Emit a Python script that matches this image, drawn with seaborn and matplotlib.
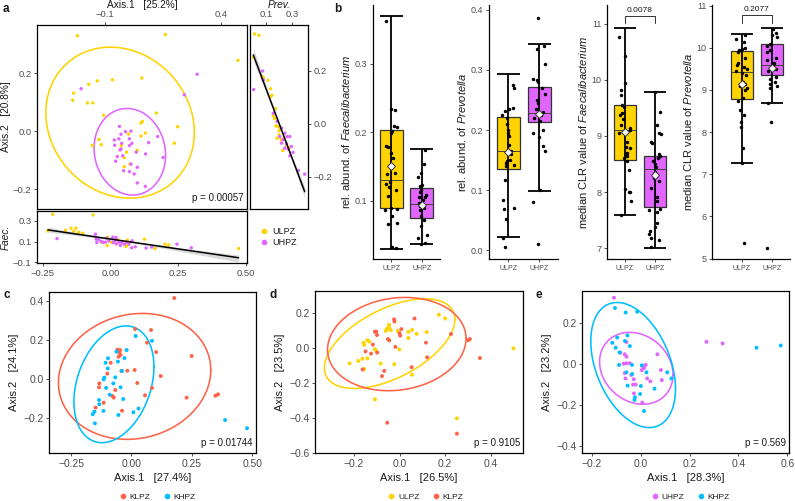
import numpy as np
import pandas as pd
import matplotlib
matplotlib.use("Agg")
import matplotlib.pyplot as plt
import seaborn as sns
from matplotlib.lines import Line2D
from matplotlib.ticker import FuncFormatter

# ------------------------------------------------------------------ colours
COL = {"ULPZ": "#FFD300", "UHPZ": "#E066FF", "KLPZ": "#FF6347", "KHPZ": "#00BFFF"}

# ------------------------------------------------------------------ panel a : PCoA (main)
a_ulpz_ax1 = [-0.219, 0.160, 0.473, 0.059, -0.068, -0.133, -0.170, -0.236, -0.239, -0.176, -0.152,
              -0.106, 0.121, 0.213, 0.061, 0.055, 0.074, 0.055, 0.001, -0.126, -0.116, -0.155,
              0.199, -0.007, 0.039, -0.017, -0.017, 0.008, -0.030]
a_ulpz_ax2 = [0.330, 0.334, 0.245, 0.184, 0.178, 0.174, 0.162, 0.132, 0.107, 0.098, 0.098,
              0.055, 0.063, 0.016, 0.034, 0.029, -0.006, -0.016, -0.009, -0.028, -0.046, -0.049,
              -0.041, -0.072, -0.066, -0.091, -0.122, -0.113, -0.049]
a_uhpz_ax1 = [-0.203, 0.297, 0.242, -0.038, 0.012, -0.012, -0.031, -0.060, -0.040, 0.005, 0.016,
              -0.028, -0.058, -0.031, 0.006, 0.088, 0.127, 0.035, 0.075, -0.047, -0.054, -0.024,
              0.012, 0.039, -0.020, 0.005, 0.026, 0.039, 0.074, 0.150, -0.035]
a_uhpz_ax2 = [0.147, 0.197, 0.126, 0.017, 0.001, -0.001, -0.010, -0.030, -0.026, -0.026, -0.041,
              -0.041, -0.048, -0.061, -0.049, -0.039, -0.018, -0.072, -0.078, -0.087, -0.103, -0.084,
              -0.113, -0.124, -0.136, -0.139, -0.147, -0.178, -0.190, -0.090, -0.064]
# ellipse: centre x, centre y, half width x, half width y, correlation
a_ell = {"ULPZ": [-0.035, 0.030, 0.320, 0.2605, -0.13], "UHPZ": [0.007, -0.0705, 0.154, 0.1495, -0.08]}

# panel a : Faecalibacterium vs Axis.1
faec_ulpz_x = [-0.213, -0.064, -0.231, -0.166, -0.145, -0.127, -0.135, -0.117, -0.102, -0.010, -0.012,
               0.027, 0.063, 0.064, 0.126, 0.165, 0.202, 0.216, 0.474, -0.030, 0.002, 0.058]
faec_ulpz_y = [0.364, 0.358, 0.204, 0.210, 0.230, 0.230, 0.201, 0.191, 0.182, 0.143, 0.063,
               0.118, 0.114, 0.070, 0.124, 0.034, 0.076, 0.067, 0.034, 0.092, 0.095, 0.054]
faec_uhpz_x = [-0.197, -0.055, -0.052, -0.043, -0.034, -0.050, -0.027, -0.018, 0.009, 0.021, 0.011,
               0.022, 0.031, 0.042, 0.037, 0.052, 0.059, 0.069, 0.080, 0.079, 0.092, 0.132, 0.153,
               0.246, 0.299, -0.014, -0.006, 0.018]
faec_uhpz_y = [0.130, 0.172, 0.124, 0.121, 0.102, 0.092, 0.095, 0.095, 0.143, 0.140, 0.092,
               0.079, 0.095, 0.092, 0.063, 0.076, 0.095, 0.076, 0.108, 0.041, 0.050, 0.038, 0.047,
               0.076, 0.041, 0.134, 0.108, 0.114]

# panel a : Prevotella vs Axis.2
prev_ulpz_x = [0.015, 0.0475, 0.005, 0.0675, 0.080, 0.115, 0.135, 0.145, 0.135, 0.1725, 0.155, 0.165,
               0.195, 0.205, 0.175, 0.200, 0.215, 0.235, 0.255, 0.280, 0.200, 0.185, 0.2275]
prev_ulpz_y = [0.340, 0.335, 0.252, 0.181, 0.176, 0.165, 0.133, 0.108, 0.103, 0.057, 0.031, 0.020,
               -0.010, -0.013, -0.008, -0.026, -0.060, -0.055, -0.082, -0.088, -0.042, -0.054, -0.101]
prev_uhpz_x = [0.0075, 0.075, 0.080, 0.155, 0.185, 0.2175, 0.2425, 0.260, 0.280, 0.230, 0.255,
               0.2925, 0.305, 0.280, 0.345, 0.3925, 0.205, 0.2175, 0.2675, 0.2425]
prev_uhpz_y = [0.130, 0.200, 0.166, 0.040, 0.009, -0.016, -0.035, -0.048, -0.048, -0.060, -0.075,
               -0.086, -0.108, -0.121, -0.176, -0.190, -0.048, -0.073, -0.095, -0.092]

# ------------------------------------------------------------------ panel b : boxplots
box_groups = ["ULPZ", "UHPZ"]
b_ylabels = ["rel. abund. of $\\mathit{Faecalibacterium}$", "rel. abund. of $\\mathit{Prevotella}$",
             "median CLR value of $\\mathit{Faecalibacterium}$", "median CLR value of $\\mathit{Prevotella}$"]
b_lo = [[0.030, 0.036], [0.022, 0.099], [7.60, 7.01], [7.27, 8.69]]
b_q1 = [[0.089, 0.074], [0.136, 0.213], [8.58, 7.73], [8.79, 9.35]]
b_med = [[0.130, 0.095], [0.165, 0.228], [9.10, 8.41], [9.42, 9.59]]
b_q3 = [[0.203, 0.118], [0.222, 0.271], [9.55, 8.65], [9.93, 10.08]]
b_hi = [[0.370, 0.175], [0.293, 0.343], [10.92, 9.78], [10.33, 10.48]]
b_mean = [[0.150, 0.093], [0.163, 0.227], [9.07, 8.30], [9.14, 9.53]]
b_pts_ulpz = [
    [0.363, 0.232, 0.234, 0.209, 0.207, 0.202, 0.199, 0.180, 0.178, 0.170, 0.162, 0.140, 0.128, 0.125,
     0.120, 0.115, 0.107, 0.090, 0.088, 0.087, 0.077, 0.067, 0.066, 0.032, 0.031, 0.139, 0.150],
    [0.275, 0.270, 0.236, 0.235, 0.232, 0.225, 0.220, 0.210, 0.200, 0.195, 0.190, 0.175, 0.165, 0.160,
     0.150, 0.148, 0.145, 0.142, 0.140, 0.117, 0.084, 0.070, 0.068, 0.052, 0.021, 0.005],
    [10.76, 10.42, 9.95, 9.82, 9.72, 9.55, 9.52, 9.40, 9.38, 9.30, 9.20, 9.15, 9.10, 9.05, 8.90, 8.80,
     8.78, 8.70, 8.68, 8.65, 8.60, 8.55, 8.40, 8.05, 8.00, 8.00, 7.85, 7.60],
    [10.30, 10.20, 10.15, 10.00, 9.98, 9.95, 9.90, 9.75, 9.65, 9.60, 9.55, 9.50, 9.45, 9.40, 9.35,
     9.20, 9.15, 9.10, 9.05, 9.00, 8.80, 8.75, 8.52, 8.40, 8.25, 8.12, 7.62, 7.27, 5.36]]
b_pts_uhpz = [
    [0.174, 0.153, 0.140, 0.135, 0.123, 0.122, 0.115, 0.113, 0.109, 0.106, 0.106, 0.101, 0.097, 0.096,
     0.092, 0.090, 0.087, 0.077, 0.072, 0.063, 0.050, 0.046, 0.038, 0.037],
    [0.387, 0.340, 0.335, 0.310, 0.285, 0.283, 0.280, 0.270, 0.260, 0.250, 0.245, 0.235, 0.230, 0.225,
     0.220, 0.215, 0.200, 0.195, 0.188, 0.174, 0.165, 0.100, 0.080, 0.010],
    [9.78, 9.42, 9.20, 9.05, 9.03, 8.90, 8.88, 8.68, 8.65, 8.60, 8.55, 8.50, 8.45, 8.35, 8.30, 8.25,
     8.20, 8.08, 7.92, 7.85, 7.70, 7.68, 7.65, 7.45, 7.38, 7.30, 7.25, 7.18, 7.15, 7.02],
    [10.45, 10.35, 10.30, 10.25, 10.10, 10.05, 9.95, 9.90, 9.75, 9.70, 9.65, 9.60, 9.50, 9.45, 9.30,
     9.25, 9.20, 9.15, 9.10, 9.05, 8.70, 8.23, 5.26]]
b_yticks = [[0.1, 0.2, 0.3], [0.0, 0.1, 0.2, 0.3, 0.4], [7, 8, 9, 10, 11], [5, 6, 7, 8, 9, 10, 11]]
b_ylims = [(0.0148, 0.386), (-0.0144, 0.408), (6.81, 11.33), (4.99, 11.016)]
b_xlims = [(-0.6, 1.6), (-0.62, 1.61), (-0.6, 1.5), (-1.0, 1.6)]
b_pval = [None, None, "0.0078", "0.2077"]
b_bracket = [None, None, (11.136, 11.01), (10.77, 10.58)]

# ------------------------------------------------------------------ panels c, d, e
c_klpz_x = [0.177, 0.015, 0.081, 0.064, 0.102, 0.249, 0.121, 0.013, -0.017, -0.042, -0.086, -0.058,
            -0.047, -0.050, -0.045, -0.053, -0.100, -0.133, -0.134, -0.067, -0.079, -0.073, -0.115,
            -0.148, -0.039, 0.024, 0.085, 0.056, 0.228, 0.347, 0.358]
c_klpz_y = [0.417, 0.258, 0.253, 0.188, 0.140, 0.120, 0.017, 0.048, 0.044, 0.043, 0.085, 0.152,
            0.150, 0.138, 0.125, 0.116, 0.029, -0.021, -0.041, -0.055, -0.085, -0.094, -0.120,
            -0.145, -0.161, -0.019, -0.044, -0.082, -0.094, -0.084, -0.077]
c_khpz_x = [0.017, 0.085, -0.020, -0.029, -0.056, -0.097, -0.107, -0.098, -0.062, -0.039, -0.112,
            -0.115, -0.067, -0.075, -0.105, -0.045, -0.090, -0.034, -0.134, -0.133, -0.116, -0.054,
            -0.153, -0.160, -0.151, 0.008, 0.029, 0.387, 0.478]
c_khpz_y = [0.222, 0.198, 0.150, 0.109, 0.091, 0.108, 0.085, 0.056, 0.142, 0.043, 0.009,
            0.000, 0.010, -0.021, -0.044, -0.041, -0.079, -0.101, -0.106, -0.128, -0.162, -0.183,
            -0.166, -0.179, -0.226, -0.169, -0.150, -0.209, -0.251]
c_ell = {"KLPZ": [0.013, 0.015, 0.315, 0.323, 0.10], "KHPZ": [-0.0725, -0.0255, 0.1655, 0.2995, 0.30]}

d_ulpz_x = [0.173, 0.200, -0.046, -0.055, -0.038, -0.060, -0.008, 0.039, 0.055, 0.075, 0.119, 0.039,
            -0.001, -0.158, -0.155, -0.141, -0.133, -0.108, -0.102, -0.141, -0.163, -0.181, -0.219,
            -0.155, -0.083, -0.023, 0.055, 0.500, -0.108, 0.252, -0.046]
d_ulpz_y = [0.192, 0.171, 0.134, 0.112, 0.104, 0.100, 0.100, 0.094, 0.105, 0.083, 0.093, 0.059,
            -0.007, 0.032, 0.019, 0.046, 0.038, -0.005, -0.016, -0.058, -0.060, -0.073, -0.087,
            -0.119, -0.088, -0.092, -0.152, -0.001, -0.294, -0.403, 0.120]
d_klpz_x = [0.066, -0.024, -0.022, 0.008, 0.000, 0.003, -0.018, -0.045, -0.051, -0.102, -0.108,
            -0.099, -0.117, -0.125, -0.149, -0.162, -0.098, -0.077, -0.067, 0.053, 0.121, 0.116,
            0.226, 0.301, 0.309, 0.353, -0.054, 0.252]
d_klpz_y = [0.171, 0.166, 0.154, 0.110, 0.086, 0.073, 0.008, 0.045, 0.053, 0.095, 0.095,
            0.076, 0.021, -0.031, -0.018, -0.122, -0.025, -0.160, -0.130, -0.109, -0.052, 0.032,
            0.082, 0.046, 0.053, -0.056, -0.428, -0.491]
d_ell = {"ULPZ": [-0.0435, 0.0265, 0.2865, 0.2575, 0.54], "KLPZ": [-0.012, 0.024, 0.304, 0.268, 0.12]}

e_uhpz_x = [-0.110, 0.269, 0.335, -0.059, -0.084, -0.066, -0.059, -0.070, -0.059, -0.066, -0.063,
            -0.039, -0.029, -0.032, -0.021, -0.028, 0.004, 0.013, 0.020, 0.005, 0.026, 0.039, 0.068,
            0.082, 0.086, 0.006, -0.045]
e_uhpz_y = [0.322, 0.107, 0.099, 0.106, 0.054, 0.046, 0.034, 0.000, 0.002, -0.046, -0.072,
            -0.055, -0.076, -0.102, -0.102, -0.145, -0.031, -0.021, -0.006, -0.010, -0.072, -0.086,
            0.046, -0.031, -0.080, -0.190, 0.002]
e_khpz_x = [-0.106, -0.062, -0.015, 0.474, 0.573, -0.097, -0.117, -0.103, -0.087, -0.055, -0.065,
            -0.045, -0.089, -0.059, -0.036, -0.035, -0.054, -0.026, -0.024, 0.004, 0.023, 0.000,
            -0.003, 0.013, 0.056, 0.108, 0.125]
e_khpz_y = [0.272, 0.250, 0.254, 0.078, 0.089, 0.128, 0.102, 0.078, 0.055, 0.138, 0.111,
            0.086, -0.006, -0.042, -0.006, -0.050, -0.107, -0.177, -0.164, -0.008, -0.042, -0.109,
            -0.148, -0.231, -0.122, -0.042, -0.072]
e_ell = {"UHPZ": [-0.0185, -0.0225, 0.1505, 0.1755, -0.18], "KHPZ": [-0.0315, -0.0065, 0.1735, 0.3055, -0.38]}

# ------------------------------------------------------------------ style
sns.set_theme(style="ticks")
plt.rcParams.update({
    "font.family": ["Liberation Sans", "DejaVu Sans"],
    "mathtext.fontset": "custom",
    "mathtext.it": "Liberation Sans:italic",
    "mathtext.rm": "Liberation Sans",
    "axes.linewidth": 0.9,
    "axes.edgecolor": "black",
    "text.color": "#1A1A1A",
    "axes.labelcolor": "#1A1A1A",
})
TICKC = "#4D4D4D"

fig = plt.figure(figsize=(7.95, 5.01), dpi=100)


def fa(x0, y0, x1, y1):
    return fig.add_axes([x0 / 795, 1 - y1 / 501, (x1 - x0) / 795, (y1 - y0) / 501])


def fmt(nd):
    return FuncFormatter(lambda v, p: ("{:.%df}" % nd).format(v + 0.0).replace("-", "\u2212")
                         if abs(v) > 1e-9 else ("{:.%df}" % nd).format(0.0))


def style(ax, size):
    for s in ax.spines.values():
        s.set_visible(True)
        s.set_color("black")
        s.set_linewidth(0.9)
    ax.tick_params(direction="out", length=2.5, width=0.6, color="#333333",
                   labelsize=size, labelcolor=TICKC, pad=1.5)
    ax.grid(False)


def scatter(ax, xs, ys, order, s=7):
    df = pd.DataFrame({"x": np.concatenate(xs), "y": np.concatenate(ys),
                       "g": np.repeat(order, [len(v) for v in xs])})
    sns.scatterplot(data=df, x="x", y="y", hue="g", hue_order=order, palette=COL, s=s,
                    linewidth=0, legend=False, ax=ax, zorder=3)
    return df


def ellipse(ax, par, color):
    cx, cy, sx, sy, r = par
    t = np.linspace(0, 2 * np.pi, 400)
    ax.plot(cx + sx * np.cos(t), cy + sy * (r * np.cos(t) + np.sqrt(1 - r * r) * np.sin(t)),
            color=color, lw=1.15, zorder=2)


# ------------------------------------------------------------------ panel a
axm = fa(37, 25, 247, 209)
scatter(axm, [a_ulpz_ax1, a_uhpz_ax1], [a_ulpz_ax2, a_uhpz_ax2], ["ULPZ", "UHPZ"], s=6)
for g in ["ULPZ", "UHPZ"]:
    ellipse(axm, a_ell[g], COL[g])
style(axm, 6.8)
axm.set_xlim(-0.393, 0.512)
axm.set_ylim(-0.268, 0.367)
axm.set_xticks([-0.1, 0.4])
axm.set_yticks([-0.2, 0.0, 0.2])
axm.xaxis.set_major_formatter(fmt(1))
axm.yaxis.set_major_formatter(fmt(1))
axm.tick_params(top=True, bottom=False, labeltop=True, labelbottom=False, left=True)
axm.xaxis.set_label_position("top")
axm.set_xlabel("Axis.1   [25.2%]", fontsize=7.3, labelpad=1.5)
axm.set_ylabel("Axis.2   [20.8%]", fontsize=7.3, labelpad=1.5)
axm.text(0.985, 0.03, "p = 0.00057", transform=axm.transAxes, ha="right", va="bottom", fontsize=7)

axf = fa(37, 211, 247, 263)
dff = scatter(axf, [faec_ulpz_x, faec_uhpz_x], [faec_ulpz_y, faec_uhpz_y], ["ULPZ", "UHPZ"], s=6)
sns.regplot(data=dff, x="x", y="y", scatter=False, color="black", ax=axf, seed=3, ci=68,
            line_kws={"lw": 1.1, "zorder": 4})
style(axf, 6.8)
axf.set_xlim(-0.271, 0.505)
axf.set_ylim(-0.106, 0.396)
axf.set_xticks([-0.25, 0.0, 0.25, 0.5])
axf.set_yticks([-0.1, 0.1, 0.3])
axf.xaxis.set_major_formatter(fmt(2))
axf.yaxis.set_major_formatter(fmt(1))
axf.tick_params(bottom=True, left=True)
axf.set_xlabel("")
axf.set_ylabel("Faec.", fontsize=7.3, fontstyle="italic", labelpad=1.5)

axp = fa(250, 25, 308, 209)
dfp = scatter(axp, [prev_ulpz_x, prev_uhpz_x], [prev_ulpz_y, prev_uhpz_y], ["ULPZ", "UHPZ"], s=6)
sns.regplot(data=dfp, x="x", y="y", scatter=False, color="black", ax=axp, seed=3, ci=68,
            line_kws={"lw": 1.1, "zorder": 4})
style(axp, 6.8)
axp.set_xlim(-0.02, 0.4175)
axp.set_ylim(-0.322, 0.374)
axp.set_xticks([0.1, 0.3])
axp.set_yticks([-0.2, 0.0, 0.2])
axp.xaxis.set_major_formatter(fmt(1))
axp.yaxis.set_major_formatter(fmt(1))
axp.tick_params(top=True, bottom=False, labeltop=True, labelbottom=False,
                right=True, left=False, labelright=True, labelleft=False)
axp.xaxis.set_label_position("top")
axp.set_xlabel("Prev.", fontsize=7.3, fontstyle="italic", labelpad=1.5)
axp.set_ylabel("")

hand_a = [Line2D([], [], marker="o", ls="", color=COL[g], markersize=3) for g in ["ULPZ", "UHPZ"]]
fig.legend(hand_a, ["ULPZ", "UHPZ"], loc="upper left", bbox_to_anchor=(259 / 795, 1 - 227 / 501),
           frameon=False, fontsize=6.5, handletextpad=0.3, labelspacing=0.25, handlelength=1.2,
           borderpad=0, borderaxespad=0)

# ------------------------------------------------------------------ panel b
b_boxes = [(373, 5, 440, 259), (489, 5, 558, 259), (607, 5, 670, 259), (712, 5, 790, 259)]
for i, (x0, y0, x1, y1) in enumerate(b_boxes):
    ax = fa(x0, y0, x1, y1)
    df = pd.DataFrame({"g": ["ULPZ"] * len(b_pts_ulpz[i]) + ["UHPZ"] * len(b_pts_uhpz[i]),
                       "v": b_pts_ulpz[i] + b_pts_uhpz[i]})
    stats = []
    for j, g in enumerate(box_groups):
        stats.append({"whislo": b_lo[i][j], "q1": b_q1[i][j], "med": b_med[i][j],
                      "q3": b_q3[i][j], "whishi": b_hi[i][j], "fliers": [], "label": g})
    bp = ax.bxp(stats, positions=[0, 1], widths=0.75, patch_artist=True, showcaps=False,
                showfliers=False, boxprops={"linewidth": 0.9, "edgecolor": "#333333"},
                medianprops={"color": "#444444", "linewidth": 0.7},
                whiskerprops={"linewidth": 0}, zorder=1)
    for patch, g in zip(bp["boxes"], box_groups):
        patch.set_facecolor(COL[g])
    pos = np.arange(len(box_groups))
    ax.vlines(pos, b_lo[i], b_hi[i], color="black", lw=1.3, zorder=2)
    ax.hlines(b_lo[i], pos - 0.375, pos + 0.375, color="black", lw=1.3, zorder=2)
    ax.hlines(b_hi[i], pos - 0.375, pos + 0.375, color="black", lw=1.3, zorder=2)
    np.random.seed(7 + i)
    sns.stripplot(data=df, x="g", y="v", order=box_groups, color="black", size=2.5,
                  jitter=0.2, ax=ax, zorder=3, linewidth=0)
    ax.plot(pos, b_mean[i], ls="", marker="D", markersize=3.6, mfc="white", mec="#333333",
            mew=0.7, zorder=5)
    if b_pval[i] is not None:
        top, tip = b_bracket[i]
        ax.plot([0, 0, 1, 1], [tip, top, top, tip], color="#333333", lw=0.7, zorder=2)
        ax.text(0.5, top + (b_ylims[i][1] - b_ylims[i][0]) * 0.008, b_pval[i], ha="center",
                va="bottom", fontsize=6)
    sns.despine(ax=ax)
    ax.spines["left"].set_linewidth(0.9)
    ax.spines["bottom"].set_linewidth(0.9)
    ax.spines["left"].set_color("black")
    ax.spines["bottom"].set_color("black")
    ax.tick_params(direction="out", length=2.5, width=0.6, color="#333333", pad=1.5,
                   labelcolor=TICKC)
    ax.tick_params(axis="y", labelsize=6.5)
    ax.tick_params(axis="x", labelsize=5)
    ax.set_ylim(*b_ylims[i])
    ax.set_xlim(*b_xlims[i])
    ax.set_yticks(b_yticks[i])
    ax.yaxis.set_major_formatter(fmt(1 if i < 2 else 0))
    ax.set_xticks(pos)
    ax.set_xticklabels(box_groups)
    ax.set_xlabel("")
    ax.set_ylabel(b_ylabels[i], fontsize=8, labelpad=2)

# ------------------------------------------------------------------ panels c, d, e
def pcoa(box, xs, ys, order, ells, xlim, ylim, xt, yt, xd, xlab, ylab, ptxt, legx):
    ax = fa(*box)
    scatter(ax, xs, ys, order, s=8)
    for g in order:
        ellipse(ax, ells[g], COL[g])
    style(ax, 7.4)
    ax.tick_params(bottom=True, left=True)
    ax.set_xlim(*xlim)
    ax.set_ylim(*ylim)
    ax.set_xticks(xt)
    ax.set_yticks(yt)
    ax.xaxis.set_major_formatter(fmt(xd))
    ax.yaxis.set_major_formatter(fmt(1))
    ax.set_xlabel(xlab, fontsize=8, labelpad=3)
    ax.set_ylabel(ylab, fontsize=8, labelpad=3)
    ax.text(0.985, 0.03, ptxt, transform=ax.transAxes, ha="right", va="bottom", fontsize=7)
    hand = [Line2D([], [], marker="o", ls="", color=COL[g], markersize=3) for g in order]
    fig.legend(hand, order, loc="center", bbox_to_anchor=(legx / 795, 1 - 497 / 501), ncol=2,
               frameon=False, fontsize=6, handletextpad=0.2, columnspacing=1.4, handlelength=1.2,
               borderpad=0, borderaxespad=0)
    return ax


pcoa((49, 292, 256, 453), [c_klpz_x, c_khpz_x], [c_klpz_y, c_khpz_y], ["KLPZ", "KHPZ"], c_ell,
     (-0.341, 0.515), (-0.378, 0.448), [-0.25, 0.0, 0.25, 0.5], [-0.2, 0.0, 0.2, 0.4], 2,
     "Axis.1   [27.4%]", "Axis.2   [24.1%]", "p = 0.01744", 157)
pcoa((315, 291, 523, 453), [d_ulpz_x, d_klpz_x], [d_ulpz_y, d_klpz_y], ["ULPZ", "KLPZ"], d_ell,
     (-0.371, 0.542), (-0.602, 0.329), [-0.2, 0.0, 0.2, 0.4], [-0.6, -0.4, -0.2, 0.0, 0.2], 1,
     "Axis.1   [26.5%]", "Axis.2   [23.5%]", "p = 0.9105", 425)
pcoa((582, 291, 789, 453), [e_uhpz_x, e_khpz_x], [e_uhpz_y, e_khpz_y], ["UHPZ", "KHPZ"], e_ell,
     (-0.241, 0.607), (-0.436, 0.355), [-0.2, 0.0, 0.2, 0.4, 0.6], [-0.4, -0.2, 0.0, 0.2], 1,
     "Axis.1   [28.3%]", "Axis.2   [23.2%]", "p = 0.569", 690)

# ------------------------------------------------------------------ panel letters
for lab, x, y in [("a", 3, 3), ("b", 334, 3), ("c", 3, 289), ("d", 270, 289), ("e", 535, 289)]:
    fig.text(x / 795, 1 - y / 501, lab, fontsize=8.5, fontweight="bold", ha="left", va="top")

fig.savefig("out.png", dpi=100)
